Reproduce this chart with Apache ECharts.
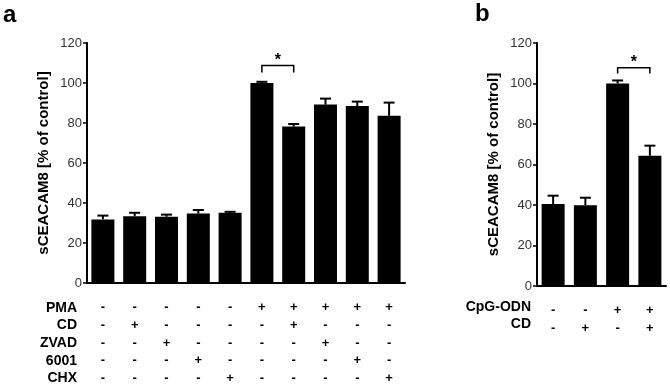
<!DOCTYPE html>
<html>
<head>
<meta charset="utf-8">
<script src="https://cdn.jsdelivr.net/npm/echarts@6/dist/echarts.min.js"></script>
<style>
  html, body { margin: 0; padding: 0; background: #fff; }
  #chart { width: 670px; height: 387px; }
</style>
</head>
<body>
<div id="chart"></div>
<script>
// panel a
const treatmentsA = ['PMA', 'CD', 'ZVAD', '6001', 'CHX'];
const signsA = [
    ['-', '-', '-', '-', '-', '+', '+', '+', '+', '+'],
    ['-', '+', '-', '-', '-', '-', '+', '-', '-', '-'],
    ['-', '-', '+', '-', '-', '-', '-', '+', '-', '-'],
    ['-', '-', '-', '+', '-', '-', '-', '-', '+', '-'],
    ['-', '-', '-', '-', '+', '-', '-', '-', '-', '+']
];
const meansA = [31.8, 33.4, 33.1, 34.7, 35.1, 100, 78.2, 89.2, 88.5, 83.6];
const errA = [1.9, 1.7, 1.1, 1.8, 0.5, 0.6, 1.3, 3.0, 2.2, 6.6];
const sigA = [5, 6, 108.8, 105.3];

// panel b
const treatmentsB = ['CpG-ODN', 'CD'];
const signsB = [
    ['-', '-', '+', '+'],
    ['-', '+', '-', '+']
];
const meansB = [40.5, 39.9, 100, 64.3];
const errB = [4.1, 3.7, 1.5, 5.0];
const sigB = [2, 3, 107.8, 105];

const yMin = 0, yMax = 120, yStep = 20;
const yName = 'sCEACAM8 [% of control]';

const font = 'Arial, "Liberation Sans", sans-serif';
const rowH = 17.6;

function cats(n) {
    var out = [];
    for (var i = 0; i < n; i++) out.push(String(i));
    return out;
}

function xAxisFor(grid, signs, n) {
    return {
        type: 'category',
        gridIndex: grid,
        data: cats(n),
        axisLine: { lineStyle: { color: '#000', width: 2 } },
        axisTick: { alignWithLabel: true, length: 5, lineStyle: { color: '#000', width: 1.5 } },
        axisLabel: {
            margin: 16,
            interval: 0,
            color: '#000',
            fontFamily: font,
            fontWeight: 'bold',
            fontSize: 13,
            lineHeight: rowH,
            verticalAlign: 'top',
            formatter: function (v, i) {
                return signs.map(function (row) { return row[i]; }).join('\n');
            }
        }
    };
}

function yAxisFor(grid) {
    return {
        type: 'value',
        gridIndex: grid,
        min: yMin,
        max: yMax,
        interval: yStep,
        name: yName,
        nameLocation: 'middle',
        nameGap: 36,
        nameTextStyle: { color: '#000', fontFamily: font, fontWeight: 'bold', fontSize: 15 },
        axisLine: { show: true, lineStyle: { color: '#000', width: 2 } },
        axisTick: { show: true, length: 4, lineStyle: { color: '#000', width: 1.5 } },
        axisLabel: { color: '#333', fontFamily: font, fontSize: 13, margin: 5 },
        splitLine: { show: false }
    };
}

function errorSeries(idx, means, errs) {
    return {
        type: 'custom',
        xAxisIndex: idx,
        yAxisIndex: idx,
        z: 3,
        data: means.map(function (m, i) { return [i, m, m + errs[i]]; }),
        renderItem: function (params, api) {
            var lo = api.coord([api.value(0), api.value(1)]);
            var hi = api.coord([api.value(0), api.value(2)]);
            var st = { stroke: '#000', lineWidth: 2 };
            return {
                type: 'group',
                children: [
                    { type: 'line', shape: { x1: lo[0], y1: lo[1], x2: hi[0], y2: hi[1] }, style: st },
                    { type: 'line', shape: { x1: hi[0] - 5.5, y1: hi[1], x2: hi[0] + 5.5, y2: hi[1] }, style: st }
                ]
            };
        }
    };
}

function sigSeries(idx, sig) {
    return {
        type: 'custom',
        xAxisIndex: idx,
        yAxisIndex: idx,
        z: 3,
        data: [sig],
        renderItem: function (params, api) {
            var a = api.coord([api.value(0), api.value(2)]);
            var b = api.coord([api.value(1), api.value(2)]);
            var drop = api.coord([api.value(0), api.value(3)]);
            return {
                type: 'group',
                children: [
                    {
                        type: 'polyline',
                        shape: { points: [[a[0], drop[1]], [a[0], a[1]], [b[0], b[1]], [b[0], drop[1]]] },
                        style: { stroke: '#000', lineWidth: 1.5, fill: null }
                    },
                    {
                        type: 'text',
                        style: {
                            text: '*', x: (a[0] + b[0]) / 2, y: a[1] + 3,
                            align: 'center', verticalAlign: 'bottom',
                            font: 'bold 16px ' + font, fill: '#000'
                        }
                    }
                ]
            };
        }
    };
}

function rowLabels(names, right, top) {
    return names.map(function (n, i) {
        return {
            type: 'text',
            right: right,
            top: top + i * rowH,
            style: { text: n, font: 'bold 14px ' + font, fill: '#000', textAlign: 'right' }
        };
    });
}

var chart = echarts.init(document.getElementById('chart'));
chart.setOption({
    animation: false,
    backgroundColor: '#fff',
    grid: [
        { left: 87, top: 43, width: 318, height: 243 },
        { left: 537, top: 43, width: 129, height: 243 }
    ],
    xAxis: [xAxisFor(0, signsA, meansA.length), xAxisFor(1, signsB, meansB.length)],
    yAxis: [yAxisFor(0), yAxisFor(1)],
    graphic: [
        { type: 'text', left: 3, top: 3, style: { text: 'a', font: 'bold 24px ' + font, fill: '#000' } },
        { type: 'text', left: 475, top: 2, style: { text: 'b', font: 'bold 24px ' + font, fill: '#000' } }
    ].concat(rowLabels(treatmentsA, 670 - 77, 301)).concat(rowLabels(treatmentsB, 670 - 531, 300)),
    series: [
        {
            type: 'bar', xAxisIndex: 0, yAxisIndex: 0, barWidth: 23,
            itemStyle: { color: '#000' }, data: meansA
        },
        {
            type: 'bar', xAxisIndex: 1, yAxisIndex: 1, barWidth: 23,
            itemStyle: { color: '#000' }, data: meansB
        },
        errorSeries(0, meansA, errA),
        errorSeries(1, meansB, errB),
        sigSeries(0, sigA),
        sigSeries(1, sigB)
    ]
});
</script>
</body>
</html>
